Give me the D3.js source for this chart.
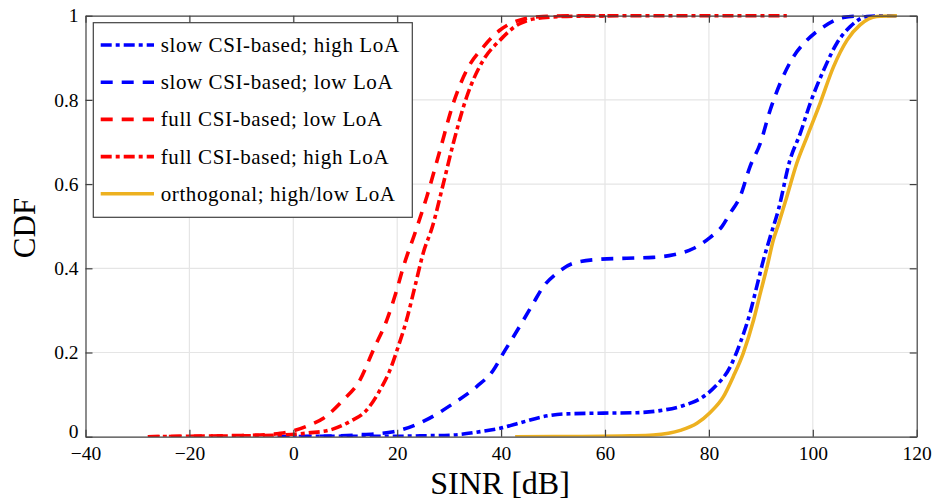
<!DOCTYPE html>
<html>
<head>
<meta charset="utf-8">
<script src="https://cdn.jsdelivr.net/npm/d3@7"></script>
<style>
    body { margin: 0; background: #fff; }
    svg { display: block; }
    text { font-family: "Liberation Serif", "Tinos", "Times New Roman", "DejaVu Serif", serif; fill: #000; }
</style>
</head>
<body>
<svg width="933" height="502"></svg>
<script>
// x ticks / y ticks
var xTicks = [-40, -20, 0, 20, 40, 60, 80, 100, 120];
var yTicks = [0, 0.2, 0.4, 0.6, 0.8, 1];

// slow CSI-based; high LoA
var slowHighX = [-3, 10, 20, 24.4, 30.8, 36, 39.8, 43.7, 47.5, 52.0, 59.7, 66.1, 70.6, 75.1, 78.3, 81.2, 84.1, 86.0, 87.9, 89.2, 90.5, 91.8, 93.4, 95.6, 97.6, 99.5, 102.1, 104.6, 107.2, 110.4, 114.3, 116];
var slowHighY = [0, 0.001, 0.001, 0.002, 0.004, 0.012, 0.02, 0.033, 0.046, 0.054, 0.056, 0.057, 0.062, 0.074, 0.09, 0.119, 0.166, 0.222, 0.293, 0.356, 0.42, 0.475, 0.54, 0.657, 0.721, 0.792, 0.871, 0.934, 0.974, 0.998, 1, 1];

// slow CSI-based; low LoA
var slowLowX = [-3, 5, 12, 19.3, 25.3, 30.8, 35.3, 38.5, 40.4, 42.4, 44.3, 46.2, 48.1, 50.7, 53.9, 58.4, 64.2, 69.3, 73.2, 77.0, 80.2, 82.5, 84.1, 86.0, 87.9, 89.9, 91.8, 93.7, 96.3, 98.9, 102.1, 105.9, 109.7];
var slowLowY = [0, 0.001, 0.004, 0.012, 0.038, 0.079, 0.119, 0.158, 0.198, 0.238, 0.277, 0.317, 0.356, 0.388, 0.412, 0.421, 0.424, 0.426, 0.432, 0.447, 0.473, 0.499, 0.531, 0.57, 0.641, 0.697, 0.776, 0.839, 0.903, 0.942, 0.974, 0.996, 1];

// full CSI-based; low LoA
var fullLowX = [-28, -20, -10, -5, -2.5, 0, 3, 5.8, 9.6, 12.85, 15.4, 18, 19.9, 21.2, 23.6, 25.7, 28.25, 30.8, 33.4, 36.6, 39.8, 43.7, 48, 55, 60];
var fullLowY = [0, 0.001, 0.003, 0.005, 0.008, 0.014, 0.027, 0.044, 0.087, 0.135, 0.206, 0.277, 0.348, 0.404, 0.49, 0.57, 0.681, 0.792, 0.871, 0.926, 0.966, 0.99, 0.998, 1, 1];

// full CSI-based; high LoA
var fullHighX = [-28, -20, -10, -2.5, 3, 7.1, 10.9, 14.1, 16.7, 18.6, 20.2, 21.8, 23.4, 25.0, 26.8, 28.9, 30.8, 33.4, 36.6, 39.8, 43.7, 48, 55, 70, 95];
var fullHighY = [0, 0.001, 0.002, 0.004, 0.009, 0.016, 0.036, 0.063, 0.111, 0.158, 0.214, 0.277, 0.356, 0.436, 0.5, 0.602, 0.697, 0.808, 0.895, 0.942, 0.982, 0.995, 0.999, 1, 1];

// orthogonal; high/low LoA
var orthX = [42.7, 55, 65, 69.3, 74.5, 77.7, 80.2, 82.8, 84.7, 86.6, 88.6, 89.9, 91.2, 92.4, 93.4, 95.0, 96.9, 98.9, 101.4, 104.0, 106.6, 109.1, 112.3, 116.2];
var orthY = [0, 0.0005, 0.002, 0.004, 0.015, 0.032, 0.057, 0.095, 0.143, 0.198, 0.277, 0.341, 0.404, 0.467, 0.505, 0.57, 0.649, 0.713, 0.792, 0.879, 0.942, 0.978, 0.998, 1];

var seriesNames = ["slow CSI-based; high LoA", "slow CSI-based; low LoA", "full CSI-based; low LoA", "full CSI-based; high LoA", "orthogonal; high/low LoA"];

var series = [
    {name: seriesNames[0], xs: slowHighX, ys: slowHighY, color: "#0000ff", dash: "11,4,4,4"},
    {name: seriesNames[1], xs: slowLowX, ys: slowLowY, color: "#0000ff", dash: "12,9"},
    {name: seriesNames[2], xs: fullLowX, ys: fullLowY, color: "#ff0000", dash: "12,9"},
    {name: seriesNames[3], xs: fullHighX, ys: fullHighY, color: "#ff0000", dash: "11,4,4,4"},
    {name: seriesNames[4], xs: orthX, ys: orthY, color: "#edb120", dash: null}
];

var serif = "'Liberation Serif', 'Tinos', 'Times New Roman', 'DejaVu Serif', serif";

var svg = d3.select("svg"),
    margin = {top: 15.7, right: 16.3, bottom: 65.3, left: 85.5},
    width = +svg.attr("width") - margin.left - margin.right,
    height = +svg.attr("height") - margin.top - margin.bottom;

var x = d3.scaleLinear().domain([-40, 120]).range([0, width]);
var y = d3.scaleLinear().domain([0, 1]).range([height, 0]);

var g = svg.append("g")
    .attr("transform", "translate(" + margin.left + "," + margin.top + ")");

// grid
g.append("g").selectAll("line")
    .data(xTicks.slice(1, -1))
    .enter().append("line")
        .attr("x1", function(d) { return x(d); })
        .attr("x2", function(d) { return x(d); })
        .attr("y1", 0).attr("y2", height)
        .attr("stroke", "#e5e5e5").attr("stroke-width", 1.2);

g.append("g").selectAll("line")
    .data(yTicks.slice(1, -1))
    .enter().append("line")
        .attr("y1", function(d) { return y(d); })
        .attr("y2", function(d) { return y(d); })
        .attr("x1", 0).attr("x2", width)
        .attr("stroke", "#e5e5e5").attr("stroke-width", 1.2);

// curves
g.append("clipPath").attr("id", "clip")
    .append("rect").attr("x", 0).attr("y", -3).attr("width", width).attr("height", height + 3);

var line = d3.line()
    .x(function(d) { return x(d[0]); })
    .y(function(d) { return y(d[1]); })
    .curve(d3.curveMonotoneX);

g.append("g").attr("clip-path", "url(#clip)")
    .selectAll("path")
    .data(series)
    .enter().append("path")
        .attr("d", function(s) { return line(d3.zip(s.xs, s.ys)); })
        .attr("fill", "none")
        .attr("stroke", function(s) { return s.color; })
        .attr("stroke-width", 3.6)
        .attr("stroke-dasharray", function(s) { return s.dash; });

// axes (inward ticks on all four sides)
var fmt = function(d) { return d < 0 ? "\u2212" + Math.abs(d) : String(d); };

g.append("g")
    .attr("class", "axis axis--x")
    .attr("transform", "translate(0," + height + ")")
    .call(d3.axisBottom(x).tickValues(xTicks).tickSizeInner(-7).tickSizeOuter(0).tickPadding(9).tickFormat(fmt));

g.append("g")
    .attr("class", "axis axis--top")
    .call(d3.axisTop(x).tickValues(xTicks).tickSizeInner(-7).tickSizeOuter(0).tickFormat(""));

g.append("g")
    .attr("class", "axis axis--y")
    .call(d3.axisLeft(y).tickValues(yTicks).tickSizeInner(-7).tickSizeOuter(0).tickPadding(7).tickFormat(function(d) { return d3.format("")(d); }));

g.append("g")
    .attr("class", "axis axis--right")
    .attr("transform", "translate(" + width + ",0)")
    .call(d3.axisRight(y).tickValues(yTicks).tickSizeInner(-7).tickSizeOuter(0).tickFormat(""));

g.selectAll(".axis").attr("font-family", null);
g.selectAll(".axis path").attr("stroke", "#404040").attr("stroke-width", 1.2);
g.selectAll(".axis line").attr("stroke", "#404040").attr("stroke-width", 1.2);
g.selectAll(".axis text")
    .style("font-family", serif)
    .style("font-size", "19.5px")
    .attr("fill", "#000");

// the "0" of the y axis sits right on top of "-40", lift it a bit
g.selectAll(".axis--y .tick text")
    .filter(function(d) { return d === 0; })
    .attr("dy", "0.05em");

// axis labels
svg.append("text")
    .attr("x", 500)
    .attr("y", 494)
    .attr("text-anchor", "middle")
    .style("font-family", serif)
    .style("font-size", "32px")
    .text("SINR [dB]");

svg.append("text")
    .attr("transform", "translate(35,228) rotate(-90)")
    .attr("text-anchor", "middle")
    .style("font-family", serif)
    .style("font-size", "31px")
    .text("CDF");

// legend
var legend = g.append("g").attr("transform", "translate(7.8,7)");

legend.append("rect")
    .attr("width", 319).attr("height", 194.6)
    .attr("fill", "#fff")
    .attr("stroke", "#404040").attr("stroke-width", 1.2);

var items = legend.selectAll(".item")
    .data(series)
    .enter().append("g")
        .attr("class", "item")
        .attr("transform", function(s, i) { return "translate(0," + (22.3 + i * 37.2) + ")"; });

items.append("line")
    .attr("x1", 7.4).attr("x2", 60.7)
    .attr("stroke", function(s) { return s.color; })
    .attr("stroke-width", 3.6)
    .attr("stroke-dasharray", function(s) { return s.dash; });

items.append("text")
    .attr("x", 67.4)
    .attr("dy", "0.33em")
    .style("font-family", serif)
    .style("font-size", "21px")
    .style("letter-spacing", "0.6px")
    .text(function(s) { return s.name; });
</script>
</body>
</html>
